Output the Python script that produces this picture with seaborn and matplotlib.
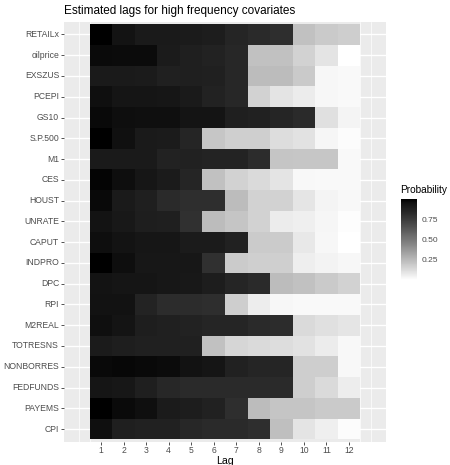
import numpy as np
import pandas as pd
import matplotlib
matplotlib.use("Agg")
import matplotlib.pyplot as plt
from matplotlib.colors import ListedColormap
import seaborn as sns

variables = ["RETAILx", "oilprice", "EXSZUS", "PCEPI", "GS10", "S.P.500", "M1", "CES",
             "HOUST", "UNRATE", "CAPUT", "INDPRO", "DPC", "RPI", "M2REAL", "TOTRESNS",
             "NONBORRES", "FEDFUNDS", "PAYEMS", "CPI"]
lags = [1, 2, 3, 4, 5, 6, 7, 8, 9, 10, 11, 12]

RETAILx   = [1.00, .94, .91, .905, .90, .89, .85, .825, .81, .22, .19, .175]
oilprice  = [.97, .965, .965, .90, .88, .865, .84, .22, .22, .16, .095, .00]
EXSZUS    = [.91, .91, .90, .875, .88, .875, .84, .24, .24, .19, .03, .02]
PCEPI     = [.955, .93, .93, .925, .91, .865, .84, .16, .095, .07, .03, .02]
GS10      = [.975, .96, .955, .955, .935, .935, .88, .87, .85, .83, .11, .04]
SP500     = [1.00, .95, .91, .90, .855, .20, .17, .17, .12, .105, .035, .015]
M1        = [.91, .91, .905, .865, .87, .86, .86, .82, .205, .20, .20, .02]
CES       = [.985, .96, .925, .90, .85, .22, .16, .13, .095, .025, .02, .02]
HOUST     = [.975, .91, .88, .83, .81, .81, .24, .16, .16, .09, .04, .025]
UNRATE    = [.94, .915, .885, .88, .80, .24, .205, .16, .07, .055, .035, .01]
CAPUT     = [.96, .94, .925, .925, .90, .90, .87, .185, .185, .08, .03, .00]
INDPRO    = [1.00, .96, .92, .92, .92, .80, .185, .17, .17, .06, .045, .03]
DPC       = [.94, .93, .93, .92, .915, .89, .855, .83, .24, .22, .19, .16]
RPI       = [.945, .945, .86, .82, .82, .81, .175, .065, .03, .02, .02, .02]
M2REAL    = [.955, .935, .885, .875, .865, .855, .855, .83, .82, .13, .11, .09]
TOTRESNS  = [.90, .885, .875, .875, .875, .22, .145, .13, .12, .105, .07, .025]
NONBORRES = [.975, .98, .975, .965, .945, .93, .87, .85, .85, .175, .175, .025]
FEDFUNDS  = [.93, .92, .88, .84, .83, .83, .83, .83, .83, .175, .13, .065]
PAYEMS    = [1.00, .97, .955, .90, .89, .87, .81, .24, .205, .205, .19, .19]
CPI       = [.955, .88, .87, .87, .84, .83, .83, .81, .23, .095, .055, .015]

rows = [RETAILx, oilprice, EXSZUS, PCEPI, GS10, SP500, M1, CES, HOUST, UNRATE,
        CAPUT, INDPRO, DPC, RPI, M2REAL, TOTRESNS, NONBORRES, FEDFUNDS, PAYEMS, CPI]
df = pd.DataFrame(rows, index=variables, columns=lags)

# white -> black gradient interpolated in Lab (like ggplot's scale_fill_gradient)
t = np.linspace(0, 1, 256)
L = 100 * (1 - t)
Y = np.where(L > 8, ((L + 16) / 116) ** 3, L / 903.3)
g = np.where(Y > 0.0031308, 1.055 * np.power(Y, 1 / 2.4) - 0.055, 12.92 * Y)
g = np.clip(g, 0, 1)
cmap = ListedColormap(np.column_stack([g, g, g]))

sns.set_style("white")
plt.rcParams['font.family'] = ['Liberation Sans', 'DejaVu Sans']

fig = plt.figure(figsize=(4.5, 4.65), dpi=100)
ax = fig.add_axes([64 / 450, (465 - 441.5) / 465, 322 / 450, 419.5 / 465])
cax = fig.add_axes([401 / 450, (465 - 280) / 465, 16 / 450, 81 / 465])

sns.heatmap(df, ax=ax, cmap=cmap, vmin=0, vmax=1.0, cbar_ax=cax, linewidths=0)

ax.set_facecolor("#EBEBEB")
ax.set_axisbelow(True)
ax.set_xlim(-1.15, 13.15)
ax.set_ylim(20.1, -0.1)
ax.set_xticks(np.arange(12) + 0.5)
ax.set_xticklabels([str(l) for l in lags], rotation=0)
ax.set_yticks(np.arange(20) + 0.5)
ax.set_yticklabels(variables, rotation=0)
ax.set_xticks([-0.5, 0, 12, 12.5], minor=True)
ax.grid(True, which="major", color="white", linewidth=1.0)
ax.grid(True, which="minor", axis="x", color="white", linewidth=0.5)
ax.grid(False, which="major", axis="x")
for sp in ax.spines.values():
    sp.set_visible(False)
ax.tick_params(which="major", length=2.3, width=0.6, color="#333333", labelsize=6.25,
               labelcolor="#4D4D4D", pad=1.2, bottom=True, left=True)
ax.tick_params(which="minor", length=0)
ax.set_xlabel("Lag", fontsize=7.6, labelpad=0.5, color="black")
ax.set_ylabel("")

fig.text(64 / 450, 1 - 11 / 465, "Estimated lags for high frequency covariates",
         fontsize=8.5, ha="left", va="center", color="black")

cbar = ax.collections[0].colorbar
cbar.outline.set_visible(False)
cbar.set_ticks([0.25, 0.5, 0.75])
cbar.set_ticklabels(["0.25", "0.50", "0.75"])
cax.tick_params(direction="in", color="white", length=3, width=0.6,
                left=True, right=True, labelsize=6.0, labelcolor="#4D4D4D", pad=3)
fig.text(400 / 450, 1 - 190 / 465, "Probability", fontsize=7.3, ha="left",
         va="center", color="black")

fig.savefig("out.png", dpi=100)
